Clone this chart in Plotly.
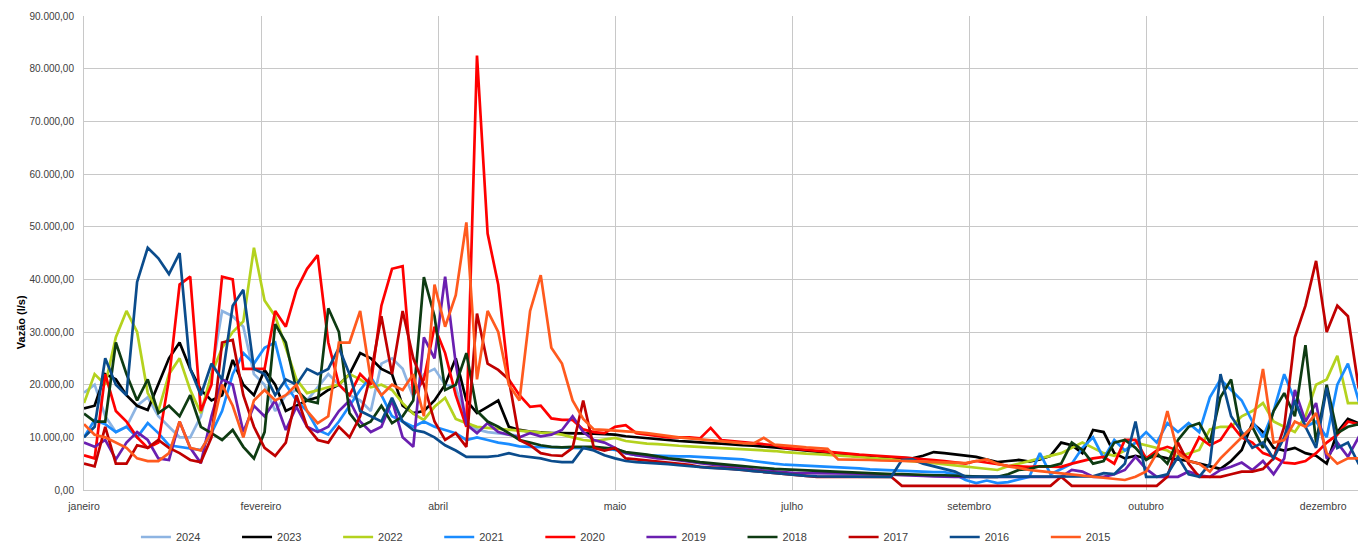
import plotly.graph_objects as go

# sample days (every 3rd day of the year)
DAYS = list(range(1, 365, 3))

MONTH_TICK_DAYS = [1, 51, 101, 151, 201, 251, 301, 351]
MONTH_LABELS = ["janeiro", "fevereiro", "abril", "maio", "julho", "setembro", "outubro", "dezembro"]

Y_TICKS = [0, 10, 20, 30, 40, 50, 60, 70, 80, 90]
Y_LABELS = ["0,00", "10.000,00", "20.000,00", "30.000,00", "40.000,00",
            "50.000,00", "60.000,00", "70.000,00", "80.000,00", "90.000,00"]

# values in thousands of l/s
Y2024 = [18.5, 20, 14, 11, 12, 16, 17.6, 14, 12, 10,
         10, 14, 22, 34, 33, 31, 22, 20, 15, 18,
         19, 17, 19.5, 22, 20, 18, 17, 15, 24, 25,
         23, 17.6, 22, 23, 20, 19.5, 13, 11.5, 11, 10.8,
         10.5, 10.3] + [None] * 80

Y2023 = [15.5, 16, 22, 21, 18, 16, 15.2, 20, 25, 28,
         23, 19, 17, 18, 24.7, 20, 18, 22.8, 20, 15,
         16, 17, 17.6, 19, 20, 22, 26, 25, 23, 22,
         16, 14.6, 15, 17, 20, 25, 17, 14.6, 15.8, 17,
         12, 11.4, 11.1, 10.9, 10.8, 10.8, 10.8, 10.7, 10.7, 10.6,
         10.5, 10.2, 10, 9.8, 9.7, 9.5, 9.3, 9.2, 9, 8.9,
         8.8, 8.6, 8.5, 8.4, 8.3, 8.1, 7.9, 7.7, 7.5, 7.3,
         7.1, 6.7, 6.5, 6.4, 6.3, 6.3, 6.2, 6.1, 6, 6.5,
         7.2, 7, 6.8, 6.6, 6.3, 5.8, 5.3, 5.5, 5.7, 5.4,
         5.8, 6.5, 9, 8.5, 7, 11.4, 11, 7, 6, 6.5,
         6, 6.5, 6, 5.8, 5.5, 5, 4.5, 4, 5.5, 7.6,
         12.7, 11, 8, 7.5, 8, 7, 6.5, 5, 11, 13.5, 12.7, 11]

Y2022 = [16.5, 22, 20, 29, 34, 30, 18.4, 15, 22, 25,
         19, 14.6, 22, 27, 30, 32, 46, 36, 33, 27,
         21, 18.4, 19, 19.5, 20, 22, 21, 19.5, 20, 19,
         16.5, 14.5, 13.3, 15.8, 17.5, 13.5, 12.7, 12, 11.8, 11.6,
         11.4, 11.2, 11, 10.9, 10.8, 10.5, 10, 9.5, 9.3, 9.6,
         9.9, 9.3, 9, 8.8, 8.7, 8.5, 8.4, 8.3, 8.2, 8.1,
         8, 7.9, 7.8, 7.7, 7.6, 7.4, 7.2, 7, 6.9, 6.8,
         6.7, 6.6, 6.5, 6.3, 6.1, 6, 5.8, 5.6, 5.5, 5.3,
         5.1, 4.9, 4.6, 4.4, 4.2, 4, 3.8, 4.5, 5, 5.5,
         6, 6.5, 7, 8, 9, 8, 7, 6.5, 7.5, 9,
         8.5, 8, 7.5, 6.3, 7, 7.6, 11.5, 12, 12, 14,
         15, 16.5, 13, 12, 11, 14, 20, 21, 25.5, 16.5, 16.5, 12.7]

Y2021 = [10, 13.3, 12.5, 11, 12, 10, 12.7, 10.8, 8.5, 8.2,
         8, 7.6, 10.8, 15, 22, 26, 24, 27, 28, 20,
         17, 15, 11.4, 10.5, 13, 16, 19, 21.5, 18, 14,
         13, 12, 13, 12, 11.4, 10.8, 9.5, 10, 9.5, 9,
         8.7, 8.3, 8.2, 8.2, 8.1, 8.1, 8, 8, 7.9, 7.8,
         7.6, 7, 6.6, 6.6, 6.5, 6.5, 6.4, 6.4, 6.3, 6.2,
         6.1, 6, 5.8, 5.5, 5.2, 5, 4.8, 4.7, 4.6, 4.5,
         4.5, 4.4, 4.3, 4.1, 3.9, 3.8, 3.7, 3.6, 3.5, 3.5,
         3.4, 3.4, 3, 1.9, 1.3, 1.8, 1.3, 1.5, 2, 2.5,
         7, 3, 4, 5, 8, 10, 6, 9.5, 7.5, 9,
         11, 9, 12.7, 11, 12.7, 11, 17.6, 21, 19, 17,
         13, 10, 15, 22, 17, 12, 13, 10, 20, 24, 17, 10]

Y2020 = [6.6, 6, 22, 15, 13, 10, 8, 9, 21, 39,
         40.5, 15, 20, 40.5, 40, 23, 23, 23, 34, 31,
         38, 42, 44.6, 28, 20, 18, 22, 20, 35, 42,
         42.5, 18, 21, 31, 26, 18, 12, 82.5, 48.7, 39,
         21, 18, 15.8, 16, 13.6, 13.3, 13.3, 11.5, 11, 10.8,
         12, 12.3, 10.8, 10.5, 10.3, 10, 10, 10, 9.8, 11.8,
         9.5, 9.3, 9.2, 9, 8.8, 8.5, 8, 7.8, 7.6, 7.4,
         7.2, 7, 6.9, 6.7, 6.6, 6.5, 6.3, 6.2, 6, 5.9,
         5.7, 5.5, 5.3, 5, 5.5, 5.2, 5, 4.6, 4.5, 4.4,
         4.5, 4.4, 4.4, 5, 5.5, 6, 6.3, 5, 9.5, 9.5,
         6, 7.5, 8.2, 7.5, 6, 10, 8.5, 9.5, 12.5, 10,
         9, 7, 6.3, 5.2, 5, 5.5, 7, 9, 10.5, 13, 12.5, 12.5]

Y2019 = [9, 8.2, 9.5, 5.8, 9, 11, 9.5, 6, 5.7, 13,
         8, 5.1, 14, 21, 20, 11, 16, 14, 17, 11.4,
         15.8, 12, 11, 12, 15, 17, 13, 11, 12, 17,
         10, 8.2, 29, 25, 40.5, 24, 12.5, 10.8, 12.7, 11,
         10.5, 10, 10.8, 10.2, 10.5, 11.4, 14, 11, 9.5, 9,
         8, 7, 6.6, 6.3, 6, 5.9, 5.7, 5.4, 5.1, 4.8,
         4.6, 4.4, 4.1, 3.9, 3.7, 3.5, 3.3, 3.2, 3.2, 3.2,
         3.2, 3.1, 3.1, 3.1, 3, 3, 2.9, 2.8, 2.8, 2.7,
         2.6, 2.5, 2.5, 2.5, 2.5, 2.5, 2.5, 2.5, 2.5, 2.5,
         2.5, 2.5, 2.5, 3.8, 3.5, 2.5, 2.5, 3, 3.8, 6.3,
         4, 2.5, 2.5, 2.5, 3.5, 2.8, 2.5, 3.8, 4.4, 5.2,
         3.8, 5.5, 3, 6, 19, 13, 16.5, 6, 9, 6.3, 10, 9]

Y2018 = [14.5, 13, 13, 28, 22, 17, 21, 14.6, 16, 14,
         18, 12, 10.8, 9.5, 11.4, 8.2, 6, 11, 31.5, 28,
         19, 17, 16.5, 34.5, 30, 14.6, 12, 13, 16, 12.7,
         14, 17, 40.4, 33, 19, 20, 26, 15, 13, 12,
         10.8, 9.5, 9, 8.5, 8.2, 8.1, 8.2, 8.2, 8.2, 8,
         7.8, 7.2, 7, 6.7, 6.4, 6, 5.8, 5.5, 5.3, 5.1,
         4.9, 4.7, 4.5, 4.3, 4.1, 4, 3.9, 3.8, 3.7, 3.6,
         3.5, 3.4, 3.3, 3.3, 3.2, 3.1, 3, 3, 2.9, 2.9,
         2.8, 2.8, 2.7, 2.6, 2.5, 2.5, 2.5, 3, 3.8, 4,
         4.5, 4.5, 5, 9, 7.6, 5, 5.5, 9, 9.5, 8,
         5.7, 7, 5, 9.5, 12, 12.7, 9, 17.6, 21, 10,
         12, 8, 15, 18.4, 14, 27.5, 9, 20, 10.8, 12, 12.5, 11.4]

Y2017 = [5, 4.5, 12, 5, 5, 8.5, 8, 9.5, 8, 7,
         5.7, 5.3, 10, 28, 28.5, 18, 12, 8, 6.5, 9,
         18, 12, 9.5, 9, 12, 10, 14, 22, 33, 22,
         34, 25, 20, 13, 9.5, 10.8, 8.2, 33.5, 24, 22.8,
         21, 9.5, 8.5, 7, 6.6, 6.5, 8, 17, 8, 7.5,
         8, 6, 5.8, 5.6, 5.4, 5.2, 5, 4.8, 4.4, 4.3,
         4.2, 4, 3.8, 3.6, 3.4, 3.2, 3, 2.8, 2.6, 2.5,
         2.5, 2.5, 2.5, 2.5, 2.5, 2.5, 2.5, 0.8, 0.8, 0.8,
         0.8, 0.8, 0.8, 0.8, 0.8, 0.8, 0.8, 0.8, 0.8, 0.8,
         0.8, 0.8, 2.5, 0.8, 0.8, 0.8, 0.8, 0.8, 0.8, 0.8,
         0.8, 0.8, 2.5, 9, 5, 2.5, 2.5, 2.5, 3, 3.5,
         3.5, 4, 6, 12, 29, 35, 43.5, 30, 35, 33, 19.5, 14]

Y2016 = [10, 12, 25, 20, 18, 39.5, 46, 44, 41, 45,
         23, 18, 24, 21, 35, 38, 23, 22, 18, 21,
         20, 23, 22, 23, 27, 22, 15, 14, 13, 17.5,
         13, 11.4, 11, 10, 8.5, 7.5, 6.3, 6.3, 6.3, 6.5,
         7, 6.5, 6.2, 6, 5.5, 5.3, 5.3, 8, 7.5, 6.6,
         6, 5.5, 5.3, 5.2, 5, 4.9, 4.7, 4.5, 4.3, 4.2,
         4.1, 4, 3.8, 3.6, 3.4, 3.2, 3, 2.8, 2.7, 2.6,
         2.6, 2.5, 2.5, 2.5, 2.5, 2.5, 2.5, 5.7, 5.8, 5,
         4.5, 4, 3.5, 2.5, 2.5, 2.5, 2.5, 2.5, 2.5, 2.5,
         2.5, 2.5, 2.5, 2.5, 2.5, 2.6, 3.2, 3, 5, 13,
         2.5, 2.5, 3, 6.3, 3, 2.5, 5, 22, 14, 11,
         8, 9, 6, 10, 17, 12, 8, 19.4, 8, 9, 5, 4.4]

Y2015 = [12.5, 10.5, 10, 9, 8, 6, 5.5, 5.5, 7, 13,
         8, 7.5, 11, 20, 16, 10, 17, 19, 17, 18,
         20, 15, 12.7, 14, 28, 28, 34, 21, 18, 20,
         19, 22, 14, 39, 31, 37, 50.8, 21, 34, 30,
         20, 17, 34, 40.8, 27, 24, 17, 13.5, 11.5, 11.4,
         11.3, 11.2, 11, 10.8, 10.5, 10.2, 10, 9.8, 9.6, 9.4,
         9.2, 9, 8.9, 8.8, 9.9, 8.6, 8.5, 8.3, 8.1, 8,
         7.8, 5.8, 5.8, 5.7, 5.7, 5.6, 5.6, 5.5, 5.5, 5.4,
         5.3, 5.3, 5.2, 5.1, 5.5, 5.8, 5, 4.5, 4.2, 3.8,
         3.6, 3.4, 3.2, 3, 2.8, 2.5, 2.3, 2.1, 1.9, 2.5,
         3.5, 7, 15, 7, 5.5, 5, 3.5, 6, 8, 10,
         12, 23, 9, 9.5, 13, 12, 14.6, 7, 5, 6, 6, 8]

SERIES = [
    ("2024", Y2024, "#8DB4E2"),
    ("2023", Y2023, "#000000"),
    ("2022", Y2022, "#B4D21E"),
    ("2021", Y2021, "#1A8CFF"),
    ("2020", Y2020, "#FF0000"),
    ("2019", Y2019, "#6A1FB0"),
    ("2018", Y2018, "#0E3B12"),
    ("2017", Y2017, "#C00000"),
    ("2016", Y2016, "#0B4C8C"),
    ("2015", Y2015, "#FF5A1E"),
]

fig = go.Figure()
for name, vals, color in SERIES:
    fig.add_trace(go.Scatter(x=DAYS, y=vals, name=name, mode="lines",
                             line=dict(color=color, width=2.7),
                             connectgaps=False))

grid = "#C8C8C8"
# the page body adds an 8px offset, so the figure is sized to fit the window
fig.update_layout(
    width=1358, height=537,
    margin=dict(l=76, r=0, t=8, b=55, autoexpand=False),
    paper_bgcolor="white", plot_bgcolor="white",
    font=dict(family="Liberation Sans, Arial, sans-serif", size=10, color="#404040"),
    showlegend=True,
    legend=dict(orientation="h", x=0.0405, xanchor="left", y=-0.0992, yanchor="middle",
                entrywidth=56.1, entrywidthmode="pixels", itemwidth=30,
                font=dict(family="Liberation Sans, sans-serif", size=11, color="#404040"),
                bgcolor="rgba(0,0,0,0)"),
    xaxis=dict(range=[1, 363.1], tickmode="array", tickvals=MONTH_TICK_DAYS, ticktext=MONTH_LABELS,
               showgrid=True, gridcolor=grid, gridwidth=1, zeroline=False, automargin=False,
               showline=True, linecolor=grid, linewidth=1, ticks="", ticklabelstandoff=6,
               tickfont=dict(size=10.5, color="#404040")),
    yaxis=dict(range=[0, 90], tickmode="array", tickvals=Y_TICKS, ticktext=Y_LABELS,
               showgrid=True, gridcolor=grid, gridwidth=1, zeroline=False, automargin=False,
               showline=True, linecolor=grid, linewidth=1, ticks="",
               ticklabelstandoff=7, tickfont=dict(size=10, color="#404040")),
    annotations=[dict(text="Vazão (l/s)", xref="paper", yref="paper",
                      x=(13 - 76) / 1282, y=0.354, xanchor="center", yanchor="middle",
                      textangle=-90, showarrow=False,
                      font=dict(size=11, color="#000000", weight="bold"))],
)

fig.write_html("out.html")
